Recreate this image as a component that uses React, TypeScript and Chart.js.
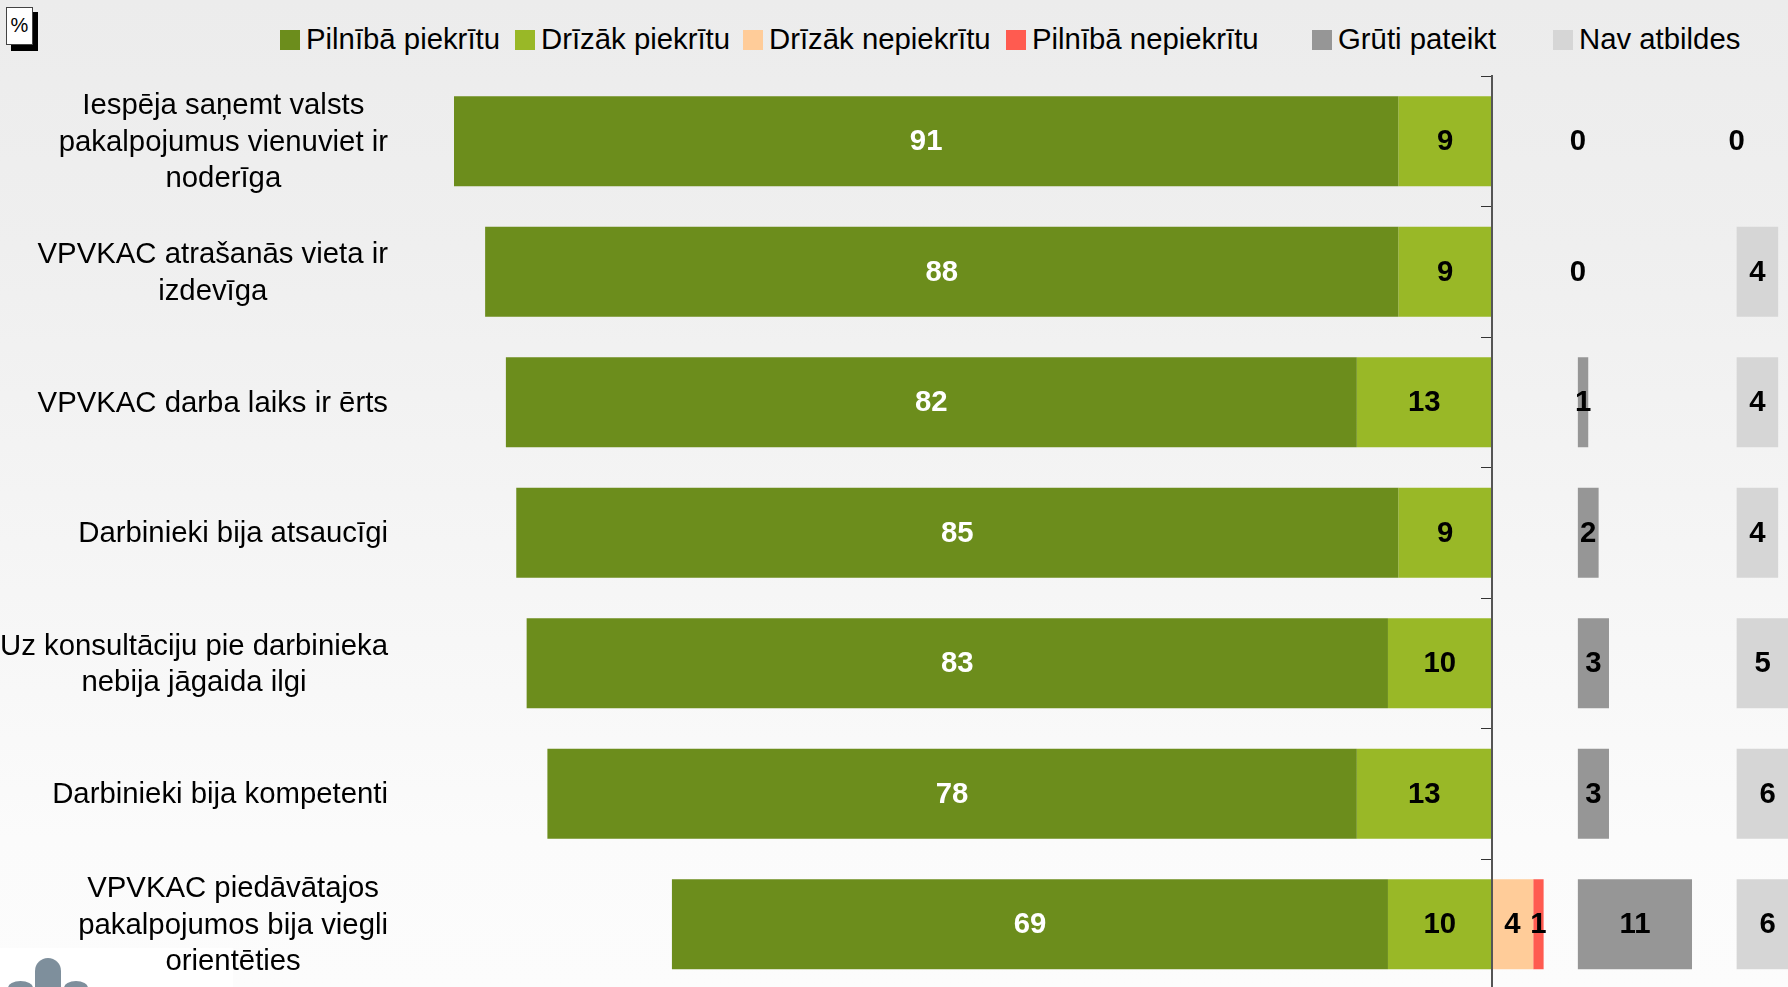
import { useEffect, useRef } from "react";
import { Chart, registerables } from "chart.js";

Chart.register(...registerables);

const categories: string[][] = [
  ["Iespēja saņemt valsts", "pakalpojumus vienuviet ir", "noderīga"],
  ["VPVKAC atrašanās vieta ir", "izdevīga"],
  ["VPVKAC darba laiks ir ērts"],
  ["Darbinieki bija atsaucīgi"],
  ["Uz konsultāciju pie darbinieka", "nebija jāgaida ilgi"],
  ["Darbinieki bija kompetenti"],
  ["VPVKAC piedāvātajos", "pakalpojumos bija viegli", "orientēties"],
];

const fullyAgree = [91, 88, 82, 85, 83, 78, 69];
const ratherAgree = [9, 9, 13, 9, 10, 13, 10];
const ratherDisagree = [0, 0, 0, 0, 0, 0, 4];
const fullyDisagree = [0, 0, 0, 0, 0, 0, 1];
const hardToSay = [0, 0, 1, 2, 3, 3, 11];
const noAnswer = [0, 4, 4, 4, 5, 6, 6];

const seriesNames = [
  "Pilnībā piekrītu",
  "Drīzāk piekrītu",
  "Drīzāk nepiekrītu",
  "Pilnībā nepiekrītu",
  "Grūti pateikt",
  "Nav atbildes",
];
const seriesColors = ["#6C8D1C", "#99B827", "#FFCC99", "#FF5B50", "#969696", "#D6D6D6"];
const legendLeft = [280, 515, 743, 1006, 1312, 1553];

// Where the two separate side panels begin on the value axis.
const HARD_TO_SAY_START = 8.3;
const NO_ANSWER_START = 23.6;

const FONT = '"Liberation Sans", Arial, sans-serif';
const FONT_SIZE = 29.33;
const LOGO_COLOR = "#7E8F9C";

const span = (from: number[], to: number[]) => from.map((v, i) => [v, to[i]]);

// Row captions: each block ends at the same right edge, its lines centred inside it.
const rowLabels = {
  id: "rowLabels",
  afterDraw(chart: any) {
    const { ctx, scales } = chart;
    ctx.save();
    ctx.font = `${FONT_SIZE}px ${FONT}`;
    ctx.fillStyle = "#000";
    ctx.textAlign = "center";
    ctx.textBaseline = "middle";
    categories.forEach((lines, i) => {
      const cy = scales.y.getPixelForValue(i) + 1.5;
      const width = Math.max(...lines.map((l) => ctx.measureText(l).width));
      const cx = 388 - width / 2;
      lines.forEach((line, k) => {
        ctx.fillText(line, cx, cy + (k - (lines.length - 1) / 2) * 36.4);
      });
    });
    ctx.restore();
  },
};

const valueLabels = {
  id: "valueLabels",
  afterDatasetsDraw(chart: any) {
    const { ctx } = chart;
    ctx.save();
    ctx.font = `bold ${FONT_SIZE}px ${FONT}`;
    ctx.textAlign = "center";
    ctx.textBaseline = "middle";
    chart.data.datasets.forEach((ds: any, d: number) => {
      chart.getDatasetMeta(d).data.forEach((bar: any, i: number) => {
        const value = ds.values[i];
        if (value === 0 && d < 4) return;
        const c = bar.getCenterPoint();
        ctx.fillStyle = d === 0 ? "#fff" : "#000";
        ctx.fillText(String(value), c.x, c.y + 1);
      });
    });
    ctx.restore();
  },
};

export default function App() {
  const ref = useRef<HTMLCanvasElement>(null);

  useEffect(() => {
    const agreeEdge = fullyAgree.map((v, i) => -(v + ratherAgree[i]));
    const agreeMid = ratherAgree.map((v) => -v);
    const zero = ratherAgree.map(() => 0);
    const disagreeMid = ratherDisagree.slice();
    const disagreeEdge = ratherDisagree.map((v, i) => v + fullyDisagree[i]);
    const hardFrom = hardToSay.map(() => HARD_TO_SAY_START);
    const hardTo = hardToSay.map((v) => HARD_TO_SAY_START + v);
    const noFrom = noAnswer.map(() => NO_ANSWER_START);
    const noTo = noAnswer.map((v) => NO_ANSWER_START + v);

    const ranges = [
      span(agreeEdge, agreeMid),
      span(agreeMid, zero),
      span(zero, disagreeMid),
      span(disagreeMid, disagreeEdge),
      span(hardFrom, hardTo),
      span(noFrom, noTo),
    ];
    const values = [fullyAgree, ratherAgree, ratherDisagree, fullyDisagree, hardToSay, noAnswer];

    const chart = new Chart(ref.current!, {
      type: "bar",
      data: {
        labels: categories.map((c) => c.join(" ")),
        datasets: seriesNames.map((label, d) => ({
          label,
          data: ranges[d],
          values: values[d],
          backgroundColor: seriesColors[d],
          borderWidth: 0,
          borderSkipped: false,
          grouped: false,
          categoryPercentage: 1,
          barPercentage: 0.689,
        })) as any,
      },
      options: {
        indexAxis: "y",
        animation: false,
        responsive: false,
        layout: { padding: { left: 454, right: 0, top: 76, bottom: 10.5 } },
        plugins: { legend: { display: false }, tooltip: { enabled: false } },
        scales: {
          x: { display: false, min: -100, max: 28.55 },
          y: {
            position: { x: 0 },
            offset: true,
            ticks: { display: false },
            grid: {
              drawOnChartArea: false,
              drawTicks: true,
              tickLength: 10,
              color: "#333",
              offset: true,
            },
            border: { display: true, color: "#555", width: 2, z: 1 },
          },
        },
      } as any,
      plugins: [rowLabels, valueLabels],
    });
    return () => chart.destroy();
  }, []);

  // Visible top of the logo in the lower left corner.
  const petal = (left: number, top: number, width: number, radiusY: number) => (
    <div
      style={{
        position: "absolute",
        left,
        top,
        width,
        height: 60,
        background: LOGO_COLOR,
        borderRadius: `${width / 2}px ${width / 2}px 0 0 / ${radiusY}px ${radiusY}px 0 0`,
      }}
    />
  );

  return (
    <div
      style={{
        position: "fixed",
        left: 0,
        top: 0,
        width: 1788,
        height: 987,
        overflow: "hidden",
        background: "linear-gradient(180deg, #ECECEC 0%, #EFEFEF 25%, #FBFBFB 85%, #FCFCFC 100%)",
        fontFamily: FONT,
      }}
    >
      <div style={{ position: "absolute", left: 0, top: 948, width: 233, height: 39, overflow: "hidden", background: "#fff" }}>
        {petal(35, 10, 26, 13)}
        {petal(8, 33, 25, 7)}
        {petal(64, 33, 24, 7)}
      </div>
      <div style={{ position: "absolute", left: 11, top: 12, width: 27, height: 39, background: "#000" }} />
      <div
        style={{
          position: "absolute",
          left: 6,
          top: 7,
          width: 27,
          height: 38,
          boxSizing: "border-box",
          background: "#fff",
          border: "1px solid #444",
          fontSize: 20,
          lineHeight: "34px",
          textAlign: "center",
        }}
      >
        %
      </div>
      {seriesNames.map((name, i) => (
        <div
          key={name}
          style={{ position: "absolute", left: legendLeft[i], top: 20, height: 38, whiteSpace: "nowrap", fontSize: FONT_SIZE, lineHeight: "38px" }}
        >
          <span
            style={{
              display: "inline-block",
              width: 20,
              height: 20,
              marginRight: 6,
              verticalAlign: -1,
              background: seriesColors[i],
            }}
          />
          {name}
        </div>
      ))}
      <canvas ref={ref} width={1788} height={1000} style={{ position: "absolute", left: 0, top: 0 }} />
    </div>
  );
}
